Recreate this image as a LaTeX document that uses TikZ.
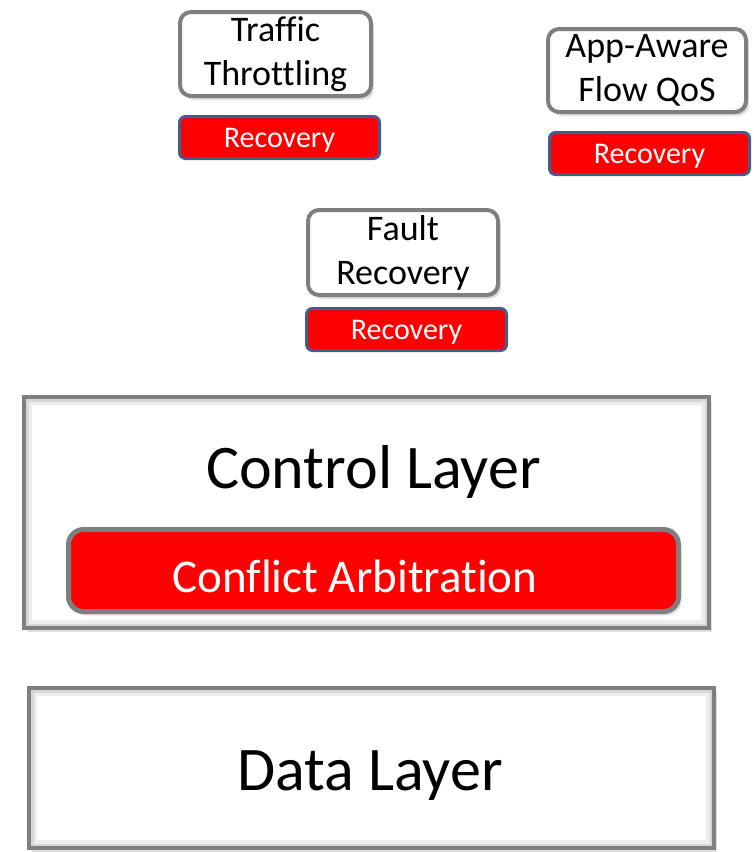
\documentclass[tikz,border=0pt]{standalone}
\usepackage{fontspec}
\setmainfont[Ligatures={NoCommon}]{Carlito}
\usetikzlibrary{
  positioning,
  shadows
}
\definecolor{lyGray}{HTML}{7F7F7F}
\definecolor{lyBlue}{HTML}{3F5F8A}
\definecolor{lyRed}{HTML}{FF0000}
\tikzset{
  softshadow/.style={
    drop shadow={shadow xshift=1.5pt, shadow yshift=-2pt, opacity=0.18, fill=black},
    drop shadow={shadow xshift=3pt, shadow yshift=-4pt, opacity=0.12, fill=black}
  },
  innerglow/.style={
    path picture={
      \draw[black!7, line width=16pt] (path picture bounding box.south west) rectangle (path picture bounding box.north east);
      \draw[black!16, line width=9pt] (path picture bounding box.south west) rectangle (path picture bounding box.north east);
    }
  },
  appbox/.style={
    draw=lyGray, line width=4pt, rounded corners=11pt, fill=white,
    align=center, inner sep=0pt, softshadow,
    font=\fontsize{36}{44}\selectfont
  },
  recbox/.style={
    draw=lyBlue, line width=3pt, rounded corners=6pt, fill=lyRed, text=white,
    minimum width=200pt, minimum height=42pt, inner sep=0pt,
    text height=20pt, text depth=0pt,
    font=\fontsize{30}{36}\selectfont
  },
  layerbox/.style={draw=lyGray, line width=4pt, fill=white, inner sep=0pt, softshadow, innerglow},
  layertext/.style={anchor=base, inner sep=0pt, font=\fontsize{62}{70}\selectfont},
  arbbox/.style={
    draw=lyGray, line width=5pt, rounded corners=15pt, fill=lyRed,
    inner sep=0pt, softshadow
  },
  arbtext/.style={anchor=base, inner sep=0pt, text=white, font=\fontsize{47}{54}\selectfont}
}

\begin{document}
\begin{tikzpicture}[x=1pt, y=-1pt]
  \useasboundingbox (0,0) rectangle (753,852);

  % application modules with their recovery blocks
  \node[appbox, minimum width=191pt, minimum height=84pt] (traffic) at (275.5,54) {Traffic\\Throttling};
  \node[recbox, below right=17pt and 0pt of traffic.south west] (trafficrec) {Recovery};

  \node[appbox, minimum width=198pt, minimum height=83pt] (qos) at (647,70.5) {App-Aware\\Flow QoS};
  \node[recbox, below right=17pt and 2pt of qos.south west] (qosrec) {Recovery};

  \node[appbox, minimum width=190pt, minimum height=85pt] (fault) at (403,252.5) {Fault\\Recovery};
  \node[recbox, below right=10pt and -1pt of fault.south west] (faultrec) {Recovery};

  % control layer
  \node[layerbox, minimum width=685pt, minimum height=231pt] (control) at (366.5,512.5) {};
  \node[layertext] (controllbl) at (373.5,488) {Control Layer};
  \node[arbbox, minimum width=610pt, minimum height=82pt] (arb) at (373.5,570.5) {};
  \node[arbtext] (arblbl) at (355,592) {Conflict Arbitration};

  % data layer
  \node[layerbox, minimum width=685pt, minimum height=160pt] (data) at (371.5,768) {};
  \node[layertext] (datalbl) at (370,790) {Data Layer};
\end{tikzpicture}
\end{document}
